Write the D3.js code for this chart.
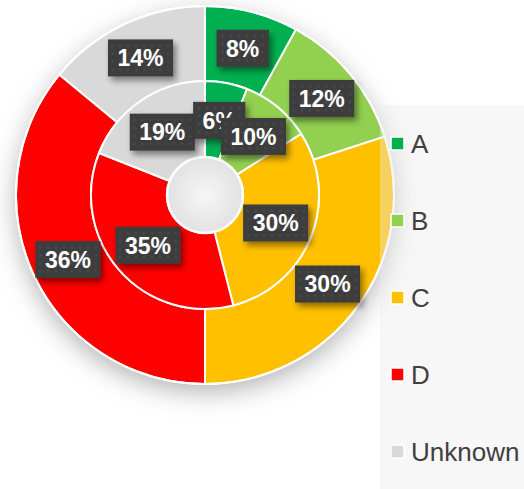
<!DOCTYPE html>
<html>
<head>
<meta charset="utf-8">
<script src="https://cdn.jsdelivr.net/npm/d3@7"></script>
<style>
html,body{margin:0;padding:0;background:#fff;}
svg{display:block;}
</style>
</head>
<body>
<svg id="chart" width="524" height="489"></svg>
<script>
const categories = ["A", "B", "C", "D", "Unknown"];
const colors = ["#00B050", "#92D050", "#FFC000", "#FF0000", "#D9D9D9"];
const outerValues = [8, 12, 30, 36, 14];
const innerValues = [6, 10, 30, 35, 19];

const W = 524, H = 489;
const cx = 205, cy = 195;
const rHole = 38, rMid = 114, rOuter = 189;

const svg = d3.select("#chart");
const defs = svg.append("defs");

const sh = defs.append("filter").attr("id", "pieShadow")
  .attr("x", "-30%").attr("y", "-30%").attr("width", "160%").attr("height", "160%");
sh.append("feDropShadow").attr("dx", 0).attr("dy", 8).attr("stdDeviation", 13)
  .attr("flood-color", "#000").attr("flood-opacity", 0.3);

const lsh = defs.append("filter").attr("id", "lblShadow")
  .attr("x", "-30%").attr("y", "-30%").attr("width", "170%").attr("height", "180%");
lsh.append("feDropShadow").attr("dx", 3).attr("dy", 4).attr("stdDeviation", 3)
  .attr("flood-color", "#000").attr("flood-opacity", 0.45);

const pat = defs.append("pattern").attr("id", "dots")
  .attr("width", 8).attr("height", 8).attr("patternUnits", "userSpaceOnUse");
pat.append("rect").attr("width", 8).attr("height", 8).attr("fill", "#3c3c3c");
pat.append("circle").attr("cx", 4).attr("cy", 4).attr("r", 1.4).attr("fill", "#494949");

const hg = defs.append("radialGradient").attr("id", "holeGrad")
  .attr("cx", "50%").attr("cy", "50%").attr("r", "50%");
hg.append("stop").attr("offset", "0%").attr("stop-color", "#f6f6f6");
hg.append("stop").attr("offset", "100%").attr("stop-color", "#e2e2e2");

const pie = d3.pie().sort(null).value(d => d);
const outerArcs = pie(outerValues);
const innerArcs = pie(innerValues);
const arcOuter = d3.arc().innerRadius(rMid).outerRadius(rOuter);
const arcInner = d3.arc().innerRadius(rHole).outerRadius(rMid);

const g = svg.append("g").attr("transform", `translate(${cx},${cy})`);

g.append("circle").attr("r", rOuter).attr("fill", "#fff").attr("filter", "url(#pieShadow)");

g.append("g").selectAll("path").data(outerArcs).join("path")
  .attr("d", arcOuter).attr("fill", (d, i) => colors[i])
  .attr("stroke", "#fff").attr("stroke-width", 2);
g.append("g").selectAll("path").data(innerArcs).join("path")
  .attr("d", arcInner).attr("fill", (d, i) => colors[i])
  .attr("stroke", "#fff").attr("stroke-width", 2);
g.append("circle").attr("r", rOuter).attr("fill", "none").attr("stroke", "#fff").attr("stroke-width", 2);
g.append("circle").attr("r", rHole).attr("fill", "url(#holeGrad)").attr("stroke", "#fff").attr("stroke-width", 2.5);

const panelX = 380, panelY = 105;
svg.append("rect").attr("x", panelX).attr("y", panelY)
  .attr("width", W - panelX).attr("height", H - panelY)
  .attr("fill", "rgba(236,236,236,0.4)");

function addLabels(arcs, arcGen, values) {
  const lg = g.append("g");
  arcs.forEach((d, i) => {
    const [x, y] = arcGen.centroid(d);
    const t = values[i] + "%";
    const grp = lg.append("g").attr("transform", `translate(${x},${y})`);
    const txt = grp.append("text").attr("text-anchor", "middle").attr("dy", "0.36em")
      .attr("font-family", "Liberation Sans, Arial, sans-serif").attr("font-weight", "bold")
      .attr("font-size", 23).attr("fill", "#fff").text(t);
    const w = txt.node().getComputedTextLength() + 19;
    grp.insert("rect", "text").attr("x", -w / 2).attr("y", -18.5).attr("width", w).attr("height", 37)
      .attr("fill", "url(#dots)").attr("filter", "url(#lblShadow)");
  });
}
addLabels(outerArcs, arcOuter, outerValues);
const innerOrder = [4, 0, 1, 2, 3];
addLabels(innerOrder.map(i => innerArcs[i]), arcInner, innerOrder.map(i => innerValues[i]));

const leg = svg.append("g");
const legY = d3.scalePoint().domain(categories).range([144, 452]);
categories.forEach((c, i) => {
  const y = legY(c);
  leg.append("rect").attr("x", 391).attr("y", y - 7).attr("width", 13).attr("height", 13)
    .attr("fill", colors[i]).attr("stroke", "#fff").attr("stroke-width", 1.5);
  leg.append("text").attr("x", 411).attr("y", y).attr("dy", "0.36em")
    .attr("font-family", "Liberation Sans, Arial, sans-serif").attr("font-size", 26)
    .attr("fill", "#404040").text(c);
});
</script>
</body>
</html>
